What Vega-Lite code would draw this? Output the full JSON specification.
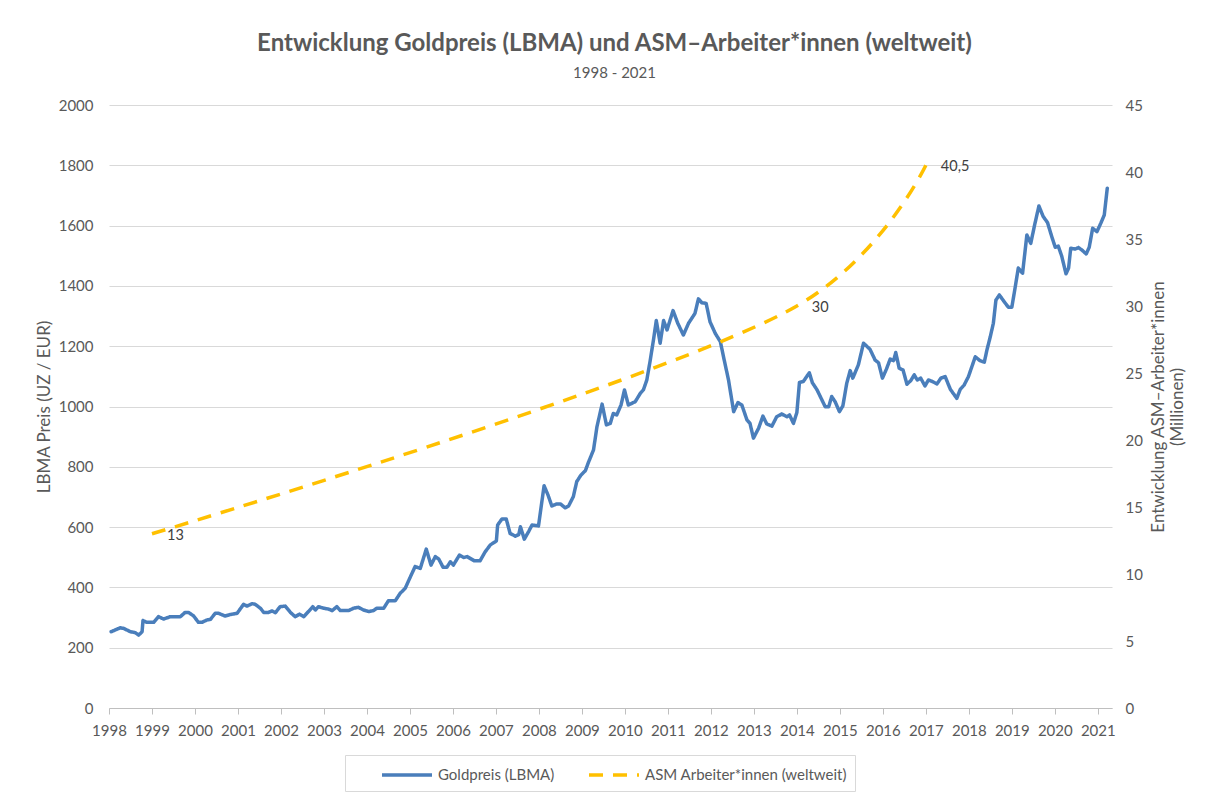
{
  "$schema": "https://vega.github.io/schema/vega-lite/v6.json",
  "autosize": "none",
  "padding": {"left": 109, "top": 105, "right": 100, "bottom": 85},
  "width": 1003,
  "height": 603,
  "background": "white",
  "title": {
    "text": "Entwicklung Goldpreis (LBMA) und ASM–Arbeiter*innen (weltweit)",
    "subtitle": "1998 - 2021",
    "anchor": "middle",
    "font": "Lato",
    "fontSize": 24,
    "fontWeight": "bold",
    "color": "#595959",
    "subtitleFont": "Lato",
    "subtitleFontSize": 15,
    "subtitleColor": "#595959",
    "subtitlePadding": 10,
    "offset": 17,
    "dx": 4
  },
  "data": {
    "values": [
      {"s":"Goldpreis (LBMA)","t":1998.05,"v":253},{"s":"Goldpreis (LBMA)","t":1998.26,"v":266},{"s":"Goldpreis (LBMA)","t":1998.34,"v":264},{"s":"Goldpreis (LBMA)","t":1998.50,"v":253},{"s":"Goldpreis (LBMA)","t":1998.61,"v":250},{"s":"Goldpreis (LBMA)","t":1998.69,"v":242},{"s":"Goldpreis (LBMA)","t":1998.77,"v":253},{"s":"Goldpreis (LBMA)","t":1998.79,"v":290},{"s":"Goldpreis (LBMA)","t":1998.88,"v":284},
      {"s":"Goldpreis (LBMA)","t":1999.04,"v":284},{"s":"Goldpreis (LBMA)","t":1999.15,"v":303},{"s":"Goldpreis (LBMA)","t":1999.27,"v":295},{"s":"Goldpreis (LBMA)","t":1999.43,"v":303},{"s":"Goldpreis (LBMA)","t":1999.66,"v":303},{"s":"Goldpreis (LBMA)","t":1999.77,"v":317},{"s":"Goldpreis (LBMA)","t":1999.85,"v":317},{"s":"Goldpreis (LBMA)","t":1999.97,"v":305},
      {"s":"Goldpreis (LBMA)","t":2000.08,"v":284},{"s":"Goldpreis (LBMA)","t":2000.16,"v":284},{"s":"Goldpreis (LBMA)","t":2000.28,"v":292},{"s":"Goldpreis (LBMA)","t":2000.36,"v":294},{"s":"Goldpreis (LBMA)","t":2000.47,"v":314},{"s":"Goldpreis (LBMA)","t":2000.55,"v":314},{"s":"Goldpreis (LBMA)","t":2000.70,"v":305},{"s":"Goldpreis (LBMA)","t":2000.82,"v":310},{"s":"Goldpreis (LBMA)","t":2000.98,"v":314},
      {"s":"Goldpreis (LBMA)","t":2001.13,"v":344},{"s":"Goldpreis (LBMA)","t":2001.21,"v":338},{"s":"Goldpreis (LBMA)","t":2001.33,"v":346},{"s":"Goldpreis (LBMA)","t":2001.40,"v":344},{"s":"Goldpreis (LBMA)","t":2001.52,"v":331},{"s":"Goldpreis (LBMA)","t":2001.60,"v":317},{"s":"Goldpreis (LBMA)","t":2001.71,"v":317},{"s":"Goldpreis (LBMA)","t":2001.79,"v":322},{"s":"Goldpreis (LBMA)","t":2001.87,"v":316},{"s":"Goldpreis (LBMA)","t":2001.98,"v":336},
      {"s":"Goldpreis (LBMA)","t":2002.10,"v":338},{"s":"Goldpreis (LBMA)","t":2002.22,"v":317},{"s":"Goldpreis (LBMA)","t":2002.33,"v":303},{"s":"Goldpreis (LBMA)","t":2002.43,"v":311},{"s":"Goldpreis (LBMA)","t":2002.53,"v":303},{"s":"Goldpreis (LBMA)","t":2002.64,"v":320},{"s":"Goldpreis (LBMA)","t":2002.74,"v":336},{"s":"Goldpreis (LBMA)","t":2002.80,"v":325},{"s":"Goldpreis (LBMA)","t":2002.87,"v":336},{"s":"Goldpreis (LBMA)","t":2002.99,"v":331},
      {"s":"Goldpreis (LBMA)","t":2003.11,"v":328},{"s":"Goldpreis (LBMA)","t":2003.19,"v":323},{"s":"Goldpreis (LBMA)","t":2003.30,"v":336},{"s":"Goldpreis (LBMA)","t":2003.38,"v":323},{"s":"Goldpreis (LBMA)","t":2003.57,"v":323},{"s":"Goldpreis (LBMA)","t":2003.69,"v":331},{"s":"Goldpreis (LBMA)","t":2003.80,"v":334},{"s":"Goldpreis (LBMA)","t":2003.92,"v":325},
      {"s":"Goldpreis (LBMA)","t":2004.04,"v":320},{"s":"Goldpreis (LBMA)","t":2004.15,"v":323},{"s":"Goldpreis (LBMA)","t":2004.23,"v":331},{"s":"Goldpreis (LBMA)","t":2004.39,"v":331},{"s":"Goldpreis (LBMA)","t":2004.50,"v":356},{"s":"Goldpreis (LBMA)","t":2004.66,"v":356},{"s":"Goldpreis (LBMA)","t":2004.77,"v":380},{"s":"Goldpreis (LBMA)","t":2004.89,"v":397},
      {"s":"Goldpreis (LBMA)","t":2005.01,"v":435},{"s":"Goldpreis (LBMA)","t":2005.12,"v":469},{"s":"Goldpreis (LBMA)","t":2005.24,"v":463},{"s":"Goldpreis (LBMA)","t":2005.38,"v":527},{"s":"Goldpreis (LBMA)","t":2005.49,"v":474},{"s":"Goldpreis (LBMA)","t":2005.59,"v":502},{"s":"Goldpreis (LBMA)","t":2005.67,"v":494},{"s":"Goldpreis (LBMA)","t":2005.77,"v":467},{"s":"Goldpreis (LBMA)","t":2005.86,"v":467},{"s":"Goldpreis (LBMA)","t":2005.94,"v":485},
      {"s":"Goldpreis (LBMA)","t":2006.01,"v":474},{"s":"Goldpreis (LBMA)","t":2006.15,"v":507},{"s":"Goldpreis (LBMA)","t":2006.25,"v":499},{"s":"Goldpreis (LBMA)","t":2006.33,"v":502},{"s":"Goldpreis (LBMA)","t":2006.50,"v":488},{"s":"Goldpreis (LBMA)","t":2006.63,"v":488},{"s":"Goldpreis (LBMA)","t":2006.75,"v":518},{"s":"Goldpreis (LBMA)","t":2006.87,"v":541},
      {"s":"Goldpreis (LBMA)","t":2007.01,"v":554},{"s":"Goldpreis (LBMA)","t":2007.04,"v":607},{"s":"Goldpreis (LBMA)","t":2007.14,"v":627},{"s":"Goldpreis (LBMA)","t":2007.24,"v":627},{"s":"Goldpreis (LBMA)","t":2007.33,"v":579},{"s":"Goldpreis (LBMA)","t":2007.45,"v":570},{"s":"Goldpreis (LBMA)","t":2007.53,"v":575},{"s":"Goldpreis (LBMA)","t":2007.57,"v":601},{"s":"Goldpreis (LBMA)","t":2007.66,"v":560},{"s":"Goldpreis (LBMA)","t":2007.76,"v":585},{"s":"Goldpreis (LBMA)","t":2007.84,"v":607},{"s":"Goldpreis (LBMA)","t":2007.99,"v":604},
      {"s":"Goldpreis (LBMA)","t":2008.12,"v":737},{"s":"Goldpreis (LBMA)","t":2008.21,"v":707},{"s":"Goldpreis (LBMA)","t":2008.30,"v":670},{"s":"Goldpreis (LBMA)","t":2008.42,"v":677},{"s":"Goldpreis (LBMA)","t":2008.50,"v":677},{"s":"Goldpreis (LBMA)","t":2008.61,"v":664},{"s":"Goldpreis (LBMA)","t":2008.69,"v":670},{"s":"Goldpreis (LBMA)","t":2008.80,"v":701},{"s":"Goldpreis (LBMA)","t":2008.88,"v":751},{"s":"Goldpreis (LBMA)","t":2008.98,"v":773},
      {"s":"Goldpreis (LBMA)","t":2009.08,"v":787},{"s":"Goldpreis (LBMA)","t":2009.15,"v":814},{"s":"Goldpreis (LBMA)","t":2009.27,"v":856},{"s":"Goldpreis (LBMA)","t":2009.35,"v":933},{"s":"Goldpreis (LBMA)","t":2009.47,"v":1008},{"s":"Goldpreis (LBMA)","t":2009.57,"v":939},{"s":"Goldpreis (LBMA)","t":2009.66,"v":944},{"s":"Goldpreis (LBMA)","t":2009.73,"v":977},{"s":"Goldpreis (LBMA)","t":2009.81,"v":972},{"s":"Goldpreis (LBMA)","t":2009.91,"v":1005},{"s":"Goldpreis (LBMA)","t":2009.99,"v":1055},
      {"s":"Goldpreis (LBMA)","t":2010.08,"v":1005},{"s":"Goldpreis (LBMA)","t":2010.24,"v":1016},{"s":"Goldpreis (LBMA)","t":2010.36,"v":1044},{"s":"Goldpreis (LBMA)","t":2010.43,"v":1055},{"s":"Goldpreis (LBMA)","t":2010.51,"v":1088},{"s":"Goldpreis (LBMA)","t":2010.59,"v":1154},{"s":"Goldpreis (LBMA)","t":2010.67,"v":1226},{"s":"Goldpreis (LBMA)","t":2010.73,"v":1285},{"s":"Goldpreis (LBMA)","t":2010.82,"v":1210},{"s":"Goldpreis (LBMA)","t":2010.90,"v":1285},{"s":"Goldpreis (LBMA)","t":2010.98,"v":1254},
      {"s":"Goldpreis (LBMA)","t":2011.12,"v":1318},{"s":"Goldpreis (LBMA)","t":2011.23,"v":1276},{"s":"Goldpreis (LBMA)","t":2011.36,"v":1237},{"s":"Goldpreis (LBMA)","t":2011.48,"v":1276},{"s":"Goldpreis (LBMA)","t":2011.63,"v":1309},{"s":"Goldpreis (LBMA)","t":2011.71,"v":1357},{"s":"Goldpreis (LBMA)","t":2011.79,"v":1344},{"s":"Goldpreis (LBMA)","t":2011.89,"v":1342},{"s":"Goldpreis (LBMA)","t":2011.98,"v":1281},
      {"s":"Goldpreis (LBMA)","t":2012.10,"v":1243},{"s":"Goldpreis (LBMA)","t":2012.22,"v":1215},{"s":"Goldpreis (LBMA)","t":2012.31,"v":1154},{"s":"Goldpreis (LBMA)","t":2012.41,"v":1088},{"s":"Goldpreis (LBMA)","t":2012.53,"v":983},{"s":"Goldpreis (LBMA)","t":2012.63,"v":1013},{"s":"Goldpreis (LBMA)","t":2012.72,"v":1005},{"s":"Goldpreis (LBMA)","t":2012.84,"v":955},{"s":"Goldpreis (LBMA)","t":2012.91,"v":944},{"s":"Goldpreis (LBMA)","t":2012.99,"v":895},
      {"s":"Goldpreis (LBMA)","t":2013.11,"v":928},{"s":"Goldpreis (LBMA)","t":2013.21,"v":968},{"s":"Goldpreis (LBMA)","t":2013.30,"v":942},{"s":"Goldpreis (LBMA)","t":2013.42,"v":935},{"s":"Goldpreis (LBMA)","t":2013.53,"v":966},{"s":"Goldpreis (LBMA)","t":2013.65,"v":975},{"s":"Goldpreis (LBMA)","t":2013.77,"v":966},{"s":"Goldpreis (LBMA)","t":2013.83,"v":972},{"s":"Goldpreis (LBMA)","t":2013.92,"v":944},
      {"s":"Goldpreis (LBMA)","t":2014.00,"v":980},{"s":"Goldpreis (LBMA)","t":2014.06,"v":1080},{"s":"Goldpreis (LBMA)","t":2014.15,"v":1083},{"s":"Goldpreis (LBMA)","t":2014.29,"v":1112},{"s":"Goldpreis (LBMA)","t":2014.36,"v":1079},{"s":"Goldpreis (LBMA)","t":2014.47,"v":1055},{"s":"Goldpreis (LBMA)","t":2014.66,"v":999},{"s":"Goldpreis (LBMA)","t":2014.74,"v":999},{"s":"Goldpreis (LBMA)","t":2014.81,"v":1033},{"s":"Goldpreis (LBMA)","t":2014.89,"v":1016},{"s":"Goldpreis (LBMA)","t":2014.99,"v":983},
      {"s":"Goldpreis (LBMA)","t":2015.07,"v":1002},{"s":"Goldpreis (LBMA)","t":2015.16,"v":1077},{"s":"Goldpreis (LBMA)","t":2015.24,"v":1119},{"s":"Goldpreis (LBMA)","t":2015.30,"v":1094},{"s":"Goldpreis (LBMA)","t":2015.43,"v":1138},{"s":"Goldpreis (LBMA)","t":2015.55,"v":1210},{"s":"Goldpreis (LBMA)","t":2015.70,"v":1190},{"s":"Goldpreis (LBMA)","t":2015.82,"v":1154},{"s":"Goldpreis (LBMA)","t":2015.90,"v":1145},{"s":"Goldpreis (LBMA)","t":2015.99,"v":1094},
      {"s":"Goldpreis (LBMA)","t":2016.08,"v":1123},{"s":"Goldpreis (LBMA)","t":2016.17,"v":1157},{"s":"Goldpreis (LBMA)","t":2016.25,"v":1152},{"s":"Goldpreis (LBMA)","t":2016.30,"v":1179},{"s":"Goldpreis (LBMA)","t":2016.38,"v":1127},{"s":"Goldpreis (LBMA)","t":2016.47,"v":1121},{"s":"Goldpreis (LBMA)","t":2016.56,"v":1074},{"s":"Goldpreis (LBMA)","t":2016.65,"v":1086},{"s":"Goldpreis (LBMA)","t":2016.73,"v":1105},{"s":"Goldpreis (LBMA)","t":2016.80,"v":1088},{"s":"Goldpreis (LBMA)","t":2016.88,"v":1094},{"s":"Goldpreis (LBMA)","t":2016.98,"v":1068},
      {"s":"Goldpreis (LBMA)","t":2017.06,"v":1088},{"s":"Goldpreis (LBMA)","t":2017.15,"v":1083},{"s":"Goldpreis (LBMA)","t":2017.26,"v":1075},{"s":"Goldpreis (LBMA)","t":2017.35,"v":1094},{"s":"Goldpreis (LBMA)","t":2017.45,"v":1099},{"s":"Goldpreis (LBMA)","t":2017.57,"v":1057},{"s":"Goldpreis (LBMA)","t":2017.72,"v":1027},{"s":"Goldpreis (LBMA)","t":2017.80,"v":1057},{"s":"Goldpreis (LBMA)","t":2017.89,"v":1071},{"s":"Goldpreis (LBMA)","t":2017.99,"v":1099},
      {"s":"Goldpreis (LBMA)","t":2018.15,"v":1165},{"s":"Goldpreis (LBMA)","t":2018.26,"v":1152},{"s":"Goldpreis (LBMA)","t":2018.36,"v":1147},{"s":"Goldpreis (LBMA)","t":2018.42,"v":1187},{"s":"Goldpreis (LBMA)","t":2018.50,"v":1232},{"s":"Goldpreis (LBMA)","t":2018.57,"v":1276},{"s":"Goldpreis (LBMA)","t":2018.63,"v":1353},{"s":"Goldpreis (LBMA)","t":2018.71,"v":1370},{"s":"Goldpreis (LBMA)","t":2018.82,"v":1348},{"s":"Goldpreis (LBMA)","t":2018.92,"v":1329},
      {"s":"Goldpreis (LBMA)","t":2019.00,"v":1329},{"s":"Goldpreis (LBMA)","t":2019.08,"v":1397},{"s":"Goldpreis (LBMA)","t":2019.15,"v":1459},{"s":"Goldpreis (LBMA)","t":2019.25,"v":1442},{"s":"Goldpreis (LBMA)","t":2019.35,"v":1569},{"s":"Goldpreis (LBMA)","t":2019.44,"v":1541},{"s":"Goldpreis (LBMA)","t":2019.53,"v":1602},{"s":"Goldpreis (LBMA)","t":2019.63,"v":1665},{"s":"Goldpreis (LBMA)","t":2019.73,"v":1630},{"s":"Goldpreis (LBMA)","t":2019.83,"v":1610},{"s":"Goldpreis (LBMA)","t":2019.93,"v":1563},
      {"s":"Goldpreis (LBMA)","t":2020.01,"v":1528},{"s":"Goldpreis (LBMA)","t":2020.08,"v":1532},{"s":"Goldpreis (LBMA)","t":2020.16,"v":1499},{"s":"Goldpreis (LBMA)","t":2020.26,"v":1440},{"s":"Goldpreis (LBMA)","t":2020.32,"v":1459},{"s":"Goldpreis (LBMA)","t":2020.37,"v":1525},{"s":"Goldpreis (LBMA)","t":2020.47,"v":1522},{"s":"Goldpreis (LBMA)","t":2020.55,"v":1527},{"s":"Goldpreis (LBMA)","t":2020.63,"v":1519},{"s":"Goldpreis (LBMA)","t":2020.73,"v":1506},{"s":"Goldpreis (LBMA)","t":2020.80,"v":1528},{"s":"Goldpreis (LBMA)","t":2020.88,"v":1591},{"s":"Goldpreis (LBMA)","t":2020.98,"v":1580},
      {"s":"Goldpreis (LBMA)","t":2021.07,"v":1608},{"s":"Goldpreis (LBMA)","t":2021.15,"v":1635},{"s":"Goldpreis (LBMA)","t":2021.22,"v":1724},
      {"s":"ASM Arbeiter*innen (weltweit)","t":1999,"v":13,"label":"13"},
      {"s":"ASM Arbeiter*innen (weltweit)","t":2014,"v":30,"label":"30"},
      {"s":"ASM Arbeiter*innen (weltweit)","t":2017,"v":40.5,"label":"40,5"}
    ]
  },
  "encoding": {
    "x": {
      "field": "t",
      "type": "quantitative",
      "scale": {"domain": [1998, 2021.33], "nice": false, "zero": false},
      "axis": {
        "values": [1998,1999,2000,2001,2002,2003,2004,2005,2006,2007,2008,2009,2010,2011,2012,2013,2014,2015,2016,2017,2018,2019,2020,2021],
        "format": "d",
        "title": null,
        "grid": false,
        "domainColor": "#bfbfbf",
        "tickColor": "#bfbfbf",
        "tickSize": 6,
        "labelPadding": 9,
        "labelFlush": false,
        "labelOverlap": false,
        "labelFont": "Lato",
        "labelFontSize": 15,
        "labelColor": "#595959"
      }
    },
    "color": {
      "field": "s",
      "type": "nominal",
      "scale": {"domain": ["Goldpreis (LBMA)", "ASM Arbeiter*innen (weltweit)"], "range": ["#4a7ebb", "#ffc000"]},
      "legend": {
        "orient": "none",
        "legendX": 236,
        "legendY": 650,
        "direction": "horizontal",
        "title": null,
        "symbolType": "M-2.5,0L2.5,0",
        "symbolSize": 400,
        "symbolStrokeWidth": 3.5,
        "symbolOffset": 42,
        "labelFont": "Lato",
        "labelFontSize": 15,
        "labelColor": "#595959",
        "labelOffset": 19,
        "labelLimit": 400,
        "columnPadding": 5,
        "padding": 8,
        "strokeColor": "#d9d9d9"
      }
    },
    "strokeDash": {
      "field": "s",
      "type": "nominal",
      "scale": {"domain": ["Goldpreis (LBMA)", "ASM Arbeiter*innen (weltweit)"], "range": [[1, 0], [14, 10]]},
      "legend": {
        "orient": "none",
        "legendX": 236,
        "legendY": 650,
        "direction": "horizontal",
        "title": null,
        "symbolType": "M-2.5,0L2.5,0",
        "symbolSize": 400,
        "symbolStrokeWidth": 3.5,
        "symbolOffset": 42,
        "labelFont": "Lato",
        "labelFontSize": 15,
        "labelColor": "#595959",
        "labelOffset": 19,
        "labelLimit": 400,
        "columnPadding": 5,
        "padding": 8,
        "strokeColor": "#d9d9d9"
      }
    }
  },
  "layer": [
    {
      "transform": [{"filter": "datum.s === 'Goldpreis (LBMA)'"}],
      "mark": {"type": "line", "strokeWidth": 3.5, "strokeJoin": "round", "strokeCap": "round"},
      "encoding": {
        "y": {
          "field": "v",
          "type": "quantitative",
          "scale": {"domain": [0, 2000], "nice": false},
          "axis": {
            "orient": "left",
            "values": [0,200,400,600,800,1000,1200,1400,1600,1800,2000],
            "format": "d",
            "title": "LBMA Preis (UZ / EUR)",
            "grid": true,
            "gridColor": "#d9d9d9",
            "gridWidth": 1,
            "domain": false,
            "ticks": false,
            "labelPadding": 16,
            "labelFont": "Lato",
            "labelFontSize": 15,
            "labelColor": "#595959",
            "titleFont": "Lato",
            "titleFontSize": 17,
            "titleFontWeight": "normal",
            "titleColor": "#595959",
            "titlePadding": 5
          }
        }
      }
    },
    {
      "transform": [{"filter": "datum.s === 'ASM Arbeiter*innen (weltweit)'"}],
      "mark": {"type": "line", "strokeWidth": 3.5, "interpolate": "catmull-rom", "tension": 0.3},
      "encoding": {
        "y": {
          "field": "v",
          "type": "quantitative",
          "scale": {"domain": [0, 45], "nice": false},
          "axis": {
            "orient": "right",
            "values": [0,5,10,15,20,25,30,35,40,45],
            "title": ["Entwicklung  ASM–Arbeiter*innen", "(Millionen)"],
            "titleAngle": 270,
            "grid": false,
            "domain": false,
            "ticks": false,
            "labelPadding": 13,
            "labelFont": "Lato",
            "labelFontSize": 15,
            "labelColor": "#595959",
            "titleFont": "Lato",
            "titleFontSize": 17,
            "titleFontWeight": "normal",
            "titleColor": "#595959",
            "titlePadding": 6
          }
        }
      }
    },
    {
      "transform": [{"filter": "datum.s === 'ASM Arbeiter*innen (weltweit)'"}],
      "mark": {"type": "text", "align": "left", "baseline": "middle", "dx": 15, "dy": 2, "font": "Lato", "fontSize": 14.5},
      "encoding": {
        "y": {"field": "v", "type": "quantitative", "scale": {"domain": [0, 45], "nice": false}, "axis": null},
        "text": {"field": "label"},
        "color": {"value": "#404040"},
        "strokeDash": null
      }
    }
  ],
  "resolve": {"scale": {"y": "independent"}, "axis": {"y": "independent"}},
  "config": {
    "view": {"stroke": null},
    "font": "Lato"
  }
}
